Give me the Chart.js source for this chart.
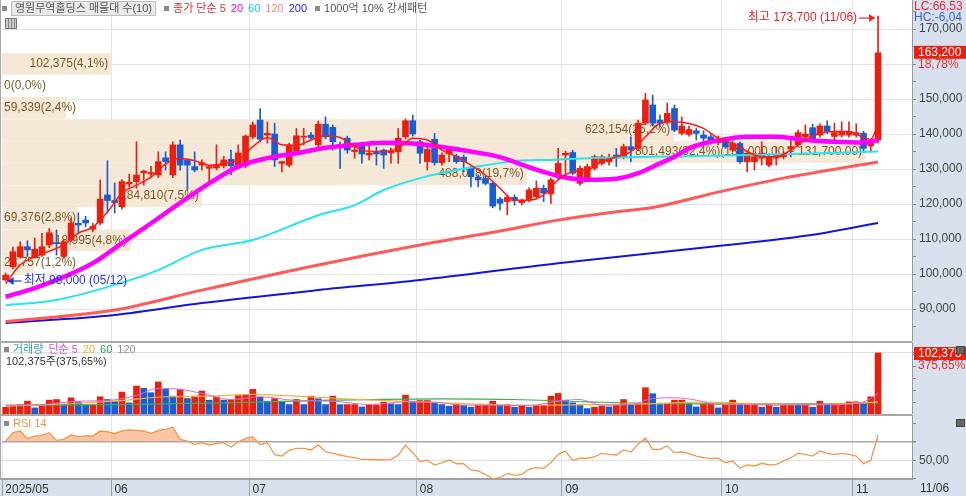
<!DOCTYPE html>
<html>
<head>
<meta charset="utf-8">
<title>영원무역홀딩스</title>
<script src="https://cdn.jsdelivr.net/npm/chart.js@4.4.1/dist/chart.umd.min.js"></script>
<style>
body{margin:0;background:#fff;}
#wrap{position:relative;width:966px;height:496px;overflow:hidden;font-family:"Liberation Sans","Noto Sans CJK KR",sans-serif;font-size:11px;color:#444;}
#wrap canvas{position:absolute;left:0;}
.bg{position:absolute;background:#d7e0ec;}
.ln{position:absolute;background:#a8a8a8;}
.t{position:absolute;white-space:nowrap;line-height:13px;}
.sq{display:inline-block;width:5px;height:5px;background:#8a8a8a;margin:0 4px 2px 0;vertical-align:middle;}
.sp{margin-left:5px;}
.ic{position:absolute;width:7px;height:6px;background:#666;border:1px solid #444;}
</style>
</head>
<body>
<div id="wrap">
<div class="bg" style="left:912px;top:0;width:54px;height:496px"></div>
<div class="bg" style="left:0;top:480px;width:966px;height:16px"></div>
<canvas id="priceChart" width="966" height="341" style="top:0"></canvas>
<canvas id="volChart" width="966" height="72" style="top:342px"></canvas>
<canvas id="rsiChart" width="966" height="81" style="top:415px"></canvas>
<div class="ln" style="left:0;top:341px;width:912px;height:2px"></div>
<div class="ln" style="left:0;top:414px;width:912px;height:2px"></div>
<div class="ln" style="left:0;top:0;width:1px;height:480px"></div>

<div class="t" style="left:2px;top:1px">
<span class="sq"></span><span style="display:inline-block;background:#e9e9e9;border:1px solid #bdbdbd;padding:0 3px;line-height:13px;color:#555">영원무역홀딩스 매물대 수(10)</span>
<span class="sq sp"></span><span style="color:#f02828">종가 단순 5</span><span class="sp" style="color:#ff00ff">20</span><span class="sp" style="color:#00d4e6">60</span><span class="sp" style="color:#ff8585">120</span><span class="sp" style="color:#2424f0">200</span>
<span class="sq sp"></span><span style="color:#555">1000억 10% 강세패턴</span>
</div>
<div style="position:absolute;left:5px;top:18px;width:10px;height:9px;border:1px solid #777;background:repeating-linear-gradient(90deg,#ccc 0 2px,#888 2px 3px)"></div>

<div class="t" style="left:4px;top:343px">
<span class="sq"></span><span style="color:#3a9ea4">거래량</span><span class="sp" style="color:#e050d0">단순 5</span><span class="sp" style="color:#f0b030">20</span><span class="sp" style="color:#30a050">60</span><span class="sp" style="color:#909090">120</span>
</div>
<div class="t" style="left:6px;top:355px;color:#333">102,375주(375,65%)</div>
<div class="t" style="left:4px;top:417px"><span class="sq"></span><span style="color:#f5904a">RSI 14</span></div>

<div class="t" style="left:914px;top:0;color:#e83030;font-size:12px">LC:66,53</div>
<div class="t" style="left:914px;top:11px;color:#3464d4;font-size:12px">HC:-6,04</div>
<div class="t" style="left:920px;top:482px;color:#333;font-size:12px">11/06</div>
<div class="ic" style="left:956px;top:346px"></div>
<div class="ic" style="left:956px;top:419px"></div>
</div>

<script>
// daily candles 2025/05/12 ~ 2025/11/06
const open=[98300,102100,104900,107800,104900,105400,108300,109000,105000,109700,
114500,115400,112800,114600,122600,121000,119200,125700,126400,128900,
128600,128300,133200,128300,136900,132600,130700,131100,130200,130300,
130900,132800,130700,130900,139200,144000,139700,140000,131600,131100,
134900,139100,139700,136900,142800,141900,136900,138800,135000,137300,
134000,134900,135400,134600,134900,139200,143800,137800,132100,138500,
131800,134300,133700,133400,130200,127600,127300,125900,121400,120700,
121900,120400,121100,122100,124500,122900,127700,134000,134700,125900,
127400,130200,131600,132100,134000,133500,136400,135900,143100,148300,
144000,143500,147300,140200,139900,140900,139700,139200,137500,137800,
135400,137300,132100,132100,133100,131100,133100,133500,135700,136900,
139200,141800,139700,142300,139300,139700,139700,139700,140200,136600,
138300]
const high=[100300,107700,109200,109500,110300,111600,113000,112600,109800,116000,
117500,116500,114500,126900,132400,126000,127000,128500,137800,129700,
130800,134900,134900,137800,138300,132800,134900,132600,130900,136900,
133600,135400,136900,139700,143400,147300,143400,143100,132300,137400,
141600,141600,140500,143700,144900,142600,137800,139400,136900,137700,
136900,136300,135700,136000,141600,144300,145400,138300,136300,140200,
134600,136300,134300,134000,130900,128300,128000,126300,121900,122600,
122600,121400,124600,126600,125400,127400,135900,135100,135400,130900,
131400,134000,134000,134300,135900,137100,139200,144000,151600,151100,
145400,148800,148300,144900,142300,141600,140900,139800,139400,138600,
138000,137800,135200,134400,137800,134300,136300,134900,138800,141100,
142600,142800,142900,143800,143100,143500,143500,142900,140800,138400,
173700]
const low=[98000,101500,104500,105000,104500,105000,107500,105400,104500,109200,
111500,113500,112000,114000,117400,117400,118500,124800,124500,125400,
127500,127500,129700,127500,129700,124000,129200,129700,125400,129700,
130300,128400,130300,130300,138600,137700,137400,130700,129200,130600,
134300,136900,138300,136300,138600,135400,130200,134500,133100,131600,
132600,131100,130200,131700,131600,138600,139400,131600,129700,131100,
131100,132100,131600,129200,124900,124900,125400,118900,118300,116900,
119700,119700,120600,121400,120700,120200,127100,127800,128300,125400,
126900,129700,131100,131100,130700,132900,132100,135400,142600,142300,
142100,142900,140600,139700,139400,138300,137700,137100,136900,135900,
134900,131600,129200,129700,131100,130700,131100,132900,133500,136300,
138300,137800,139100,140100,138300,139100,139100,139100,134900,134900,
137400]
const close=[99700,106400,107800,106900,107100,107800,111800,108700,109200,114600,
114000,114600,113600,121400,121000,120400,126400,126200,128300,129400,
129000,132100,132100,136900,131100,131100,129700,131800,130700,131100,
132600,130900,134600,139400,142600,138500,140200,132600,132100,136900,
139500,139400,138900,142800,139200,137800,136300,135400,135400,134300,
134500,134300,134000,135100,138800,143800,140000,134500,135600,131800,
134000,135400,132100,132100,127800,126900,125900,119400,120200,121900,
120900,120900,124000,124500,123100,126900,131600,134500,128800,130200,
130700,133500,133500,133100,133100,136400,135400,143100,149700,143100,
143100,145900,141100,142300,141300,140200,138800,138300,138500,136400,
137300,132100,134500,133500,134500,133500,134000,134000,136400,140400,
140000,138300,142300,140700,140400,140700,140700,140400,135900,137400,
163200]
const volume=[11300,13000,15800,21500,10200,13000,23200,24300,15800,27200,
20400,14700,14700,28900,24300,21500,36800,18700,47000,43000,
35700,53800,41300,30000,41300,26000,30000,38500,23200,28900,
23200,24300,31100,32800,41300,28300,21500,26000,21500,15800,
24300,15800,30000,25500,15800,30000,15800,15800,15800,11900,
14700,14700,19800,17000,15800,31700,21500,22600,22600,19800,
15800,13000,15800,14700,11300,14700,14700,21500,14700,15800,
11300,14700,11300,14700,14700,30000,34500,23200,18700,14700,
9100,11300,13000,11900,14700,24300,14700,17000,44100,34000,
15800,17000,23200,23200,17000,11900,17000,17000,10200,14700,
23200,14700,14700,17000,11300,17000,11300,15800,15800,14700,
15800,11300,21500,14700,14700,15800,20400,20400,17000,28900,
102375]
const rsi=[70.7,79.7,81.5,73.3,76.1,76.8,79.7,71.4,72.5,77.2,
75.4,76.1,76.1,81.5,80.8,78.6,81.5,82.6,82.2,81.5,
79.0,82.2,83.3,85.8,72.5,70.7,67.2,68.9,66.5,68.3,
68.9,64.3,69.7,73.6,75.4,66.8,68.9,56.0,54.6,60.7,
62.9,62.9,61.1,66.5,59.3,57.5,55.7,53.9,52.8,51.1,
51.1,50.7,50.3,51.1,55.4,66.1,58.2,48.5,50.0,44.9,
47.4,50.3,46.3,46.3,39.6,38.5,34.9,30.2,31.3,36.0,
33.9,34.9,40.3,42.1,41.4,47.4,56.4,60.0,50.0,52.2,
52.2,53.6,57.5,56.4,55.7,61.1,58.9,67.2,73.7,61.8,
61.8,65.4,58.2,58.9,57.1,54.6,52.8,51.8,52.2,47.4,
49.3,41.4,45.0,43.9,46.8,45.0,45.7,49.3,52.8,57.5,
56.4,54.6,60.0,57.5,56.4,57.5,56.4,54.6,46.4,50.0,
77.2]

// moving averages: [day index, value]
const ma5=[[0,97200],[2,102600],[5,105700],[8,108300],[10,111700],[12,113400],[14,117700],[16,123100],[18,125400],[20,127700],
[22,131400],[24,133000],[26,132400],[28,131100],[30,131600],[32,132600],[34,136400],[36,139000],[38,136900],[40,136700],
[42,138300],[44,139500],[46,139000],[48,136400],[50,135000],[52,135000],[54,135900],[56,138800],[58,138300],[60,135400],
[62,133500],[64,131100],[66,128300],[68,124500],[70,121100],[72,121100],[74,122600],[76,126900],[78,129200],[80,129700],
[82,132100],[84,133500],[86,135000],[88,139200],[90,143000],[92,143500],[94,143000],[96,141600],[98,138800],[100,137300],
[102,135000],[104,133500],[106,133500],[108,135400],[110,138300],[112,140200],[114,140700],[116,140700],[118,139000],[119,138500],[120,143000]]
const ma20=[[0,93500],[4,96000],[8,99200],[12,103100],[16,108800],[20,114500],[24,120300],[28,125900],[32,130700],[36,133100],
[40,134500],[44,136100],[48,136900],[52,137500],[56,137300],[60,136300],[64,135000],[68,133400],[72,130500],[76,128000],
[80,126900],[84,127200],[87,128800],[90,131600],[92,133500],[94,135900],[96,137300],[99,138500],[102,139200],[106,139200],
[110,138300],[114,137800],[118,137600],[120,138300]]
const ma60=[[0,91100],[7,92600],[15,96900],[21,101100],[27,106900],[34,109700],[43,116800],[48,119700],[52,124000],[57,127400],
[62,129700],[66,131100],[71,132400],[75,132600],[80,133100],[89,133500],[103,134000],[120,135000]]
const ma120=[[0,86400],[15,89700],[27,95400],[43,102600],[57,108300],[68,112300],[76,115400],[84,117800],[89,119000],[98,123400],
[107,127400],[120,132000]]
const ma200=[[0,86000],[15,88300],[27,91700],[43,95400],[57,98300],[76,103100],[98,108000],[110,110900],[120,114600]]

const vma5=[[0,14700],[5,15800],[10,21500],[14,22600],[18,31100],[21,43000],[24,41300],[27,34500],[31,24300],[35,28900],
[40,22600],[45,21500],[50,15800],[55,20400],[59,19800],[63,14700],[68,14700],[72,14100],[76,21500],[79,24300],
[82,14700],[86,15800],[89,26000],[92,27200],[95,23200],[98,15800],[102,15800],[106,14700],[110,15800],[114,15800],[118,20400],[120,34000]]
const vma20=[[0,13000],[8,17000],[15,21500],[22,28900],[28,30000],[34,32800],[40,30000],[46,26000],[52,22600],[58,19800],
[64,17000],[72,14700],[80,15800],[88,17000],[96,19800],[104,17000],[112,15800],[120,20400]]
const vma60=[[0,14700],[15,15800],[30,18700],[45,23200],[60,25500],[70,24300],[80,20400],[95,17000],[110,17000],[120,18700]]

// volume profile (매물대), top band first
const bandHigh=[163200,156900,150600,144300,138000,131700,125400,119100,112800,106500]
const bandLow=[156900,150600,144300,138000,131700,125400,119100,112800,106500,100200]
const bandVol=[102375,0,59339,623154,801493,488078,184810,69376,118995,28757]
const bandPct=[4.1,0,2.4,25.2,32.4,19.7,7.5,2.8,4.8,1.2]

const monthLabels=['2025/05','06','07','08','09','10','11']
const monthFirst=[0,15,34,57,77,99,117]
const priceTicks=[85000,90000,95000,100000,105000,110000,115000,120000,125000,130000,135000,140000,145000,150000,155000,160000,165000,170000,175000]
const priceLabels=[90000,100000,110000,120000,130000,140000,150000,170000]
const volTicks=[20000,40000,60000,80000,100000]
const rsiTicks=[30,50,70,90]
const highDate='11/06', lowDate='05/12'
const volRatio=375.65

const RED='#e8200f', BLUE='#1c5ccf'
const FONT='"Liberation Sans","Noto Sans CJK KR",sans-serif'
Chart.defaults.font.family=FONT
Chart.defaults.color='#333'

const fmt=v=>Math.round(v).toLocaleString('en-US')
const dec=(v,n)=>v.toFixed(n).replace('.',',')
const pts=a=>a.map(p=>({x:p[0],y:p[1]}))
const last=close.length-1
const candleColor=close.map((c,i)=>c>=open[i]?RED:BLUE)
// volume bars: red when volume is not lower than the day before
const volColor=volume.map((v,i)=>i===0||v>=volume[i-1]?RED:BLUE)

// right axis: fixed width, no extra label padding at top/bottom
const fitRight=s=>{s.width=54;s.paddingTop=0;s.paddingBottom=0}

const xCommon=()=>({
type:'linear',min:-0.5,max:124.67,offset:false,
afterBuildTicks:s=>{s.ticks=monthFirst.slice(1).map(i=>({value:i-0.5}))},
afterFit:s=>{s.height=0;s.paddingLeft=0;s.paddingRight=0},
ticks:{display:false},
border:{display:false},
grid:{color:'#e3e3e3',drawTicks:false,offset:false}
})

function arrow(ctx,from,to,y){
ctx.lineWidth=1.2
ctx.beginPath()
ctx.moveTo(from,y)
ctx.lineTo(to,y)
ctx.stroke()
const d=to>from?-1:1
ctx.beginPath()
ctx.moveTo(to,y)
ctx.lineTo(to+d*6,y-4)
ctx.lineTo(to+d*6,y+4)
ctx.closePath()
ctx.fill()
}

const priceMarks={
id:'priceMarks',
afterDatasetDraw(chart,args){
if(args.meta.label!=='bands')return
const ctx=chart.ctx
const maxPct=Math.max(...bandPct)
ctx.save()
ctx.font='12px '+FONT
ctx.fillStyle='#7a5a28'
ctx.textBaseline='middle'
args.meta.data.forEach((bar,k)=>{
let txt=fmt(bandVol[k])+'('+dec(bandPct[k],1)+'%)'
if(bandPct[k]===maxPct)txt+='('+fmt(bandHigh[k])+'.00 ~ '+fmt(bandLow[k])+'.00)'
const w=ctx.measureText(txt).width
if(bar.x-bar.base>w+6){ctx.textAlign='right';ctx.fillText(txt,bar.x-3,bar.y)}
else{ctx.textAlign='left';ctx.fillText(txt,chart.chartArea.left+2,bar.y)}
})
ctx.restore()
},
afterDraw(chart){
const ctx=chart.ctx,x=chart.scales.x,y=chart.scales.y
ctx.save()
ctx.font='12px '+FONT
ctx.textBaseline='middle'
const hiVal=Math.max(...high),hiI=high.indexOf(hiVal)
let px=x.getPixelForValue(hiI),py=y.getPixelForValue(hiVal)+2
ctx.fillStyle=ctx.strokeStyle='#ee2222'
ctx.textAlign='right'
ctx.fillText('최고 '+fmt(hiVal)+' ('+highDate+')',px-21,py)
arrow(ctx,px-19,px-3,py)
const loVal=Math.min(...low),loI=low.indexOf(loVal)
px=x.getPixelForValue(loI);py=y.getPixelForValue(loVal)
ctx.fillStyle=ctx.strokeStyle='#2236dd'
ctx.textAlign='left'
arrow(ctx,px+16,px+2,py)
ctx.fillText('최저 '+fmt(loVal)+' ('+lowDate+')',px+18,py)
py=y.getPixelForValue(close[last])
ctx.fillStyle=RED
ctx.fillRect(y.left+2,py-7,y.width-2,13)
ctx.fillStyle='#fff'
ctx.fillText(fmt(close[last]),y.left+6,py)
ctx.fillStyle='#e83030'
ctx.fillText(dec((close[last]/close[last-1]-1)*100,2)+'%',y.left+6,py+12)
ctx.restore()
}
}

new Chart(document.getElementById('priceChart'),{
type:'bar',
data:{datasets:[
{type:'line',label:'ma5',data:pts(ma5),borderColor:'#ff1a1a',borderWidth:1.5,pointRadius:0,cubicInterpolationMode:'monotone',order:0},
{type:'line',label:'ma20',data:pts(ma20),borderColor:'#ff00ff',borderWidth:4.5,pointRadius:0,cubicInterpolationMode:'monotone',order:1},
{type:'line',label:'ma60',data:pts(ma60),borderColor:'#21e6f2',borderWidth:2,pointRadius:0,cubicInterpolationMode:'monotone',order:2},
{type:'line',label:'ma120',data:pts(ma120),borderColor:'#ff5a5a',borderWidth:3,pointRadius:0,cubicInterpolationMode:'monotone',order:3},
{type:'line',label:'ma200',data:pts(ma200),borderColor:'#1414dc',borderWidth:2,pointRadius:0,cubicInterpolationMode:'monotone',order:4},
{type:'bar',label:'body',data:close.map((c,i)=>({x:i,y:[open[i],c]})),backgroundColor:candleColor,barThickness:6,minBarLength:1,grouped:false,order:6},
{type:'bar',label:'wick',data:close.map((c,i)=>({x:i,y:[low[i],high[i]]})),backgroundColor:candleColor,barThickness:1,grouped:false,order:7},
{type:'bar',label:'bands',indexAxis:'y',xAxisID:'xb',yAxisID:'y',data:bandPct.map((p,k)=>({x:[0,p],y:(bandHigh[k]+bandLow[k])/2})),backgroundColor:'#f6e8d6',barThickness:21,grouped:false,order:20}
]},
options:{
responsive:false,animation:false,devicePixelRatio:1,
layout:{padding:{left:2,right:0,top:0,bottom:0}},
plugins:{legend:{display:false},tooltip:{enabled:false}},
scales:{
x:xCommon(),
xb:{type:'linear',axis:'x',display:false,min:0,max:34.16,offset:false},
y:{type:'linear',position:'right',min:80860,max:178290,offset:false,
afterFit:fitRight,
afterBuildTicks:s=>{s.ticks=priceTicks.map(v=>({value:v}))},
ticks:{autoSkip:false,padding:3,color:'#444',font:{size:12},callback:v=>priceLabels.includes(v)?fmt(v):''},
grid:{offset:false,color:c=>c.tick&&c.tick.value%10000===0?'#e3e3e3':'rgba(0,0,0,0)',tickColor:'#8c8c8c',tickLength:4},
border:{color:'#9a9a9a'}}
}
},
plugins:[priceMarks]
})

const volMarks={
id:'volMarks',
afterDraw(chart){
const ctx=chart.ctx,y=chart.scales.y
const py=y.getPixelForValue(volume[last])
ctx.save()
ctx.font='12px '+FONT
ctx.textBaseline='middle'
ctx.fillStyle=RED
ctx.fillRect(y.left+2,py-6,y.width-2,13)
ctx.fillStyle='#fff'
ctx.fillText(fmt(volume[last]),y.left+6,py+1)
ctx.fillStyle='#e83030'
ctx.fillText(dec(volRatio,2)+'%',y.left+6,py+13)
ctx.restore()
}
}

new Chart(document.getElementById('volChart'),{
type:'bar',
data:{datasets:[
{type:'line',data:pts(vma5),borderColor:'#e463d6',borderWidth:1,pointRadius:0,cubicInterpolationMode:'monotone',order:0},
{type:'line',data:pts(vma20),borderColor:'#f0b43a',borderWidth:1.2,pointRadius:0,cubicInterpolationMode:'monotone',order:1},
{type:'line',data:pts(vma60),borderColor:'#3cae58',borderWidth:1.2,pointRadius:0,cubicInterpolationMode:'monotone',order:2},
{type:'bar',data:volume.map((v,i)=>({x:i,y:v})),backgroundColor:volColor,barThickness:6,grouped:false,order:5}
]},
options:{
responsive:false,animation:false,devicePixelRatio:1,
layout:{padding:{left:2,right:0,top:0,bottom:0}},
plugins:{legend:{display:false},tooltip:{enabled:false}},
scales:{
x:xCommon(),
y:{type:'linear',position:'right',min:0,max:120800,offset:false,
afterFit:fitRight,
afterBuildTicks:s=>{s.ticks=volTicks.concat([volume[last]]).map(v=>({value:v}))},
ticks:{autoSkip:false,callback:()=>''},
grid:{color:c=>c.tick&&c.tick.value===volume[last]?'#dedede':'rgba(0,0,0,0)',tickColor:'#8c8c8c',tickLength:4},
border:{color:'#9a9a9a'}}
}
},
plugins:[volMarks]
})

new Chart(document.getElementById('rsiChart'),{
type:'line',
data:{datasets:[
{data:rsi.map((v,i)=>({x:i,y:v})),borderColor:'#f5964f',borderWidth:1.3,pointRadius:0,
fill:{target:{value:70},above:'rgba(243,158,105,0.6)',below:'rgba(0,0,0,0)'}}
]},
options:{
responsive:false,animation:false,devicePixelRatio:1,
layout:{padding:{left:2,right:0,top:0,bottom:0}},
plugins:{legend:{display:false},tooltip:{enabled:false}},
scales:{
x:{type:'linear',min:-0.5,max:124.67,offset:false,
afterBuildTicks:s=>{s.ticks=monthFirst.map(i=>({value:i-0.5}))},
afterFit:s=>{s.height=17;s.paddingLeft=0;s.paddingRight=0},
ticks:{autoSkip:false,maxRotation:0,align:'start',padding:-14,color:'#333',font:{size:12},callback:(v,k)=>' '+monthLabels[k]},
border:{color:'#a0a0a0',width:2},
grid:{color:'#e3e3e3',tickColor:'#a0a0a0',tickLength:17,offset:false}},
y:{type:'linear',position:'right',min:29.9,max:98.7,offset:false,
afterFit:fitRight,
afterBuildTicks:s=>{s.ticks=rsiTicks.map(v=>({value:v}))},
ticks:{autoSkip:false,padding:3,color:'#444',font:{size:12},callback:v=>v===50?'50,00':''},
grid:{color:c=>!c.tick?'rgba(0,0,0,0)':c.tick.value===70?'#a8a8a8':c.tick.value===50?'#e0e0e0':'rgba(0,0,0,0)',
lineWidth:c=>c.tick&&c.tick.value===70?1.5:1,tickColor:'#8c8c8c',tickLength:4},
border:{color:'#9a9a9a'}}
}
}
})
</script>
</body>
</html>
